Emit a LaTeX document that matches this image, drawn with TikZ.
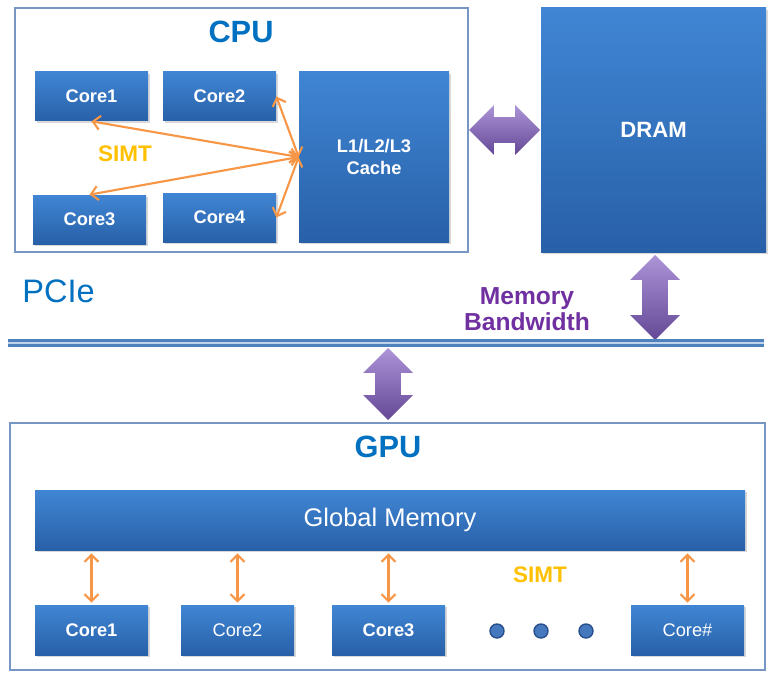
\documentclass[tikz,border=0pt]{standalone}
\usepackage{fontspec}
\setmainfont{Liberation Sans}
\usepackage{xcolor}
\usetikzlibrary{shapes.arrows, shadows, arrows.meta}
\definecolor{boxtop}{RGB}{64,134,212}
\definecolor{boxbottom}{RGB}{40,96,168}
\definecolor{titleblue}{RGB}{0,112,192}
\definecolor{framecol}{RGB}{120,150,195}
\definecolor{linkorange}{RGB}{247,150,70}
\definecolor{simtgold}{RGB}{255,192,0}
\definecolor{bwpurple}{RGB}{112,48,160}
\definecolor{arrowtop}{RGB}{172,148,215}
\definecolor{arrowbottom}{RGB}{100,72,150}
\definecolor{busblue}{RGB}{79,129,189}
\definecolor{buslight}{RGB}{190,210,235}
\definecolor{dotfill}{RGB}{70,120,190}
\definecolor{dotedge}{RGB}{40,80,140}

\tikzset{
  block/.style={top color=boxtop, bottom color=boxbottom, text=white, align=center,
    font=\bfseries\fontsize{10.4}{12.5}\selectfont, inner sep=0pt,
    drop shadow={opacity=0.3, shadow xshift=0.04cm, shadow yshift=-0.04cm}},
  frame/.style={draw=framecol, line width=0.6pt, inner sep=0pt},
  title/.style={text=titleblue, font=\bfseries\fontsize{17.5}{20}\selectfont},
  simt/.style={text=simtgold, font=\bfseries\fontsize{12.8}{15}\selectfont},
  link/.style={draw=linkorange, line width=1.2pt, <->, >={Straight Barb[length=4pt,width=8pt]}},
  fatarrow/.style={double arrow, double arrow tip angle=90, inner xsep=0pt, inner ysep=0.25cm,
    double arrow head extend=0.24cm, top color=arrowtop, bottom color=arrowbottom},
  bus/.style={draw=busblue, line width=1.3pt, double=buslight, double distance=1.6pt},
  dot/.style={circle, fill=dotfill, draw=dotedge, line width=0.8pt, minimum size=0.28cm, inner sep=0pt}
}

\begin{document}
\begin{tikzpicture}
    \useasboundingbox (0,0) rectangle (15.42,-13.54);

    % CPU and its cores
    \node[frame, minimum width=9.06cm, minimum height=4.88cm] (cpu) at (4.83,-2.60) {};
    \node[title] (cputitle) at (4.82,-0.64) {CPU};
    \node[block, minimum width=2.26cm, minimum height=0.98cm] (c1) at (1.83,-1.93) {Core1};
    \node[block, minimum width=2.26cm, minimum height=0.98cm] (c2) at (4.39,-1.93) {Core2};
    \node[block, minimum width=2.26cm, minimum height=0.98cm] (c3) at (1.79,-4.39) {Core3};
    \node[block, minimum width=2.26cm, minimum height=0.98cm] (c4) at (4.39,-4.35) {Core4};
    \node[block, minimum width=3.00cm, minimum height=3.40cm] (cache) at (7.48,-3.14) {L1/L2/L3\\Cache};
    \node[simt] (cpusimt) at (2.50,-3.08) {SIMT};

    % Cache to cores
    \draw[link] (cache.west) -- (c1.south);
    \draw[link] (cache.west) -- (c2.east);
    \draw[link] (cache.west) -- (c3.north);
    \draw[link] (cache.west) -- (c4.east);

    % DRAM
    \node[block, font=\bfseries\fontsize{12.6}{15}\selectfont, minimum width=4.50cm, minimum height=4.88cm] (dram) at (13.07,-2.60) {DRAM};
    \node[fatarrow, minimum height=1.42cm] (cpudram) at (10.09,-2.60) {};
    \node[fatarrow, rotate=90, minimum height=1.70cm] (drambus) at (13.10,-5.95) {};
    \node[text=bwpurple, font=\bfseries\fontsize{14}{14.7}\selectfont, align=center] (bw) at (10.54,-6.18) {Memory\\Bandwidth};

    % PCIe bus
    \node[text=titleblue, font=\fontsize{18.5}{21}\selectfont, anchor=west, inner sep=0pt] (pcie) at (0.44,-5.82) {PCIe};
    \coordinate (busl) at (0.16,-6.86);
    \coordinate (busr) at (15.28,-6.86);
    \draw[bus] (busl) -- (busr);
    \node[fatarrow, rotate=90, minimum height=1.44cm] (busgpu) at (7.76,-7.68) {};

    % GPU
    \node[frame, minimum width=15.10cm, minimum height=4.94cm] (gpu) at (7.75,-10.93) {};
    \node[title] (gputitle) at (7.76,-8.94) {GPU};
    \node[block, font=\fontsize{14.5}{17}\selectfont, minimum width=14.20cm, minimum height=1.20cm] (gm) at (7.80,-10.40) {Global Memory};
    \node[block, minimum width=2.26cm, minimum height=1.00cm] (g1) at (1.83,-12.60) {Core1};
    \node[block, font=\fontsize{10.4}{12.5}\selectfont, minimum width=2.26cm, minimum height=1.00cm] (g2) at (4.75,-12.60) {Core2};
    \node[block, minimum width=2.26cm, minimum height=1.00cm] (g3) at (7.77,-12.60) {Core3};
    \node[block, font=\fontsize{10.4}{12.5}\selectfont, minimum width=2.26cm, minimum height=1.00cm] (gn) at (13.75,-12.60) {Core\#};
    \node[dot] (d1) at (9.94,-12.62) {};
    \node[dot] (d2) at (10.82,-12.62) {};
    \node[dot] (d3) at (11.72,-12.62) {};
    \node[simt] (gpusimt) at (10.80,-11.50) {SIMT};

    % Global memory to cores
    \draw[link, shorten <=0.06cm, shorten >=0.04cm] (g1.north |- gm.south) -- (g1.north);
    \draw[link, shorten <=0.06cm, shorten >=0.04cm] (g2.north |- gm.south) -- (g2.north);
    \draw[link, shorten <=0.06cm, shorten >=0.04cm] (g3.north |- gm.south) -- (g3.north);
    \draw[link, shorten <=0.06cm, shorten >=0.04cm] (gn.north |- gm.south) -- (gn.north);
\end{tikzpicture}
\end{document}
